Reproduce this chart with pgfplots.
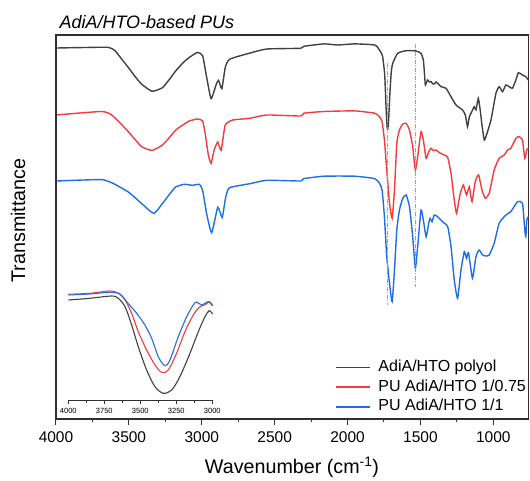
\documentclass[border=0pt]{standalone}
\usepackage{fontspec}
\setmainfont{Liberation Sans}
\usepackage{pgfplots}
\pgfplotsset{compat=1.18}
\definecolor{cblack}{HTML}{404040}
\definecolor{cred}{HTML}{F03C3C}
\definecolor{cblue}{HTML}{1F6FE0}
\definecolor{cdash}{HTML}{A0A0A0}
\definecolor{caxis}{HTML}{303030}
\begin{document}
\begin{tikzpicture}[x=1pt,y=1pt]
\useasboundingbox (0,0) rectangle (530,481);
% ---------------- main axis ----------------
\begin{axis}[
  at={(56pt,62pt)}, anchor=south west,
  scale only axis, width=472.3pt, height=384pt,
  x dir=reverse, xmin=760, xmax=4000,
  ymin=62, ymax=446,
  ytick=\empty,
  xtick={1000,1500,...,4000},
  minor x tick num=1,
  xtick pos=left, xtick align=outside,
  major tick length=6.5pt, minor tick length=3.5pt,
  every tick/.style={line width=1pt, caxis},
  axis line style={line width=1.2pt, caxis},
  /pgf/number format/assume math mode=true,
  /pgf/number format/1000 sep={},
  xticklabel style={font=\fontsize{15.5}{18}\selectfont, anchor=base, inner sep=0pt, yshift=-17.5pt},
  legend style={at={(axis description cs:0.5907,0.154)}, anchor=north west,
    draw=none, fill=none, inner sep=0pt, font=\fontsize{16}{19}\selectfont,
    row sep=4.7pt, nodes={inner sep=0pt, text height=11.5pt, text depth=3.5pt},
    /tikz/every odd column/.append style={column sep=7.7pt}},
  legend image code/.code={\draw[#1, line width=1.6pt] (0pt,0pt) -- (34pt,0pt);},
  legend cell align=left,
  clip=false,
]
\addplot[cblack, line width=1.4pt, smooth, tension=0.3] coordinates {
(3993,433.0)(3800,433.5)(3641,433.7)(3595,430.3)(3550,422)(3503,413.4)(3455,404)(3410,396.5)(3341,389.7)(3272,393.1)
(3225,401)(3179,410)(3130,418)(3086,423.5)(3029,428.6)(2994,425.2)(2966,403.3)(2936,382.3)(2901,396.5)(2885,400.6)
(2862,392.4)(2839,413.4)(2809,421.8)(2670,427.9)(2554,432)(2323,432.7)(2300,434.7)(2161,437.1)
(2069,436)(1953,437.1)(1814,436)(1781,431)(1760,425)(1745,406)(1735,371)(1728,353)(1724,351.7)
(1718,361)(1710,386)(1700,409)(1690,417.7)(1656,427.7)(1598,430.3)(1530,430)(1496,427.7)
(1480,421)(1470,403)(1466,396)(1451,401)(1438,399)(1427,399.3)(1415,397)(1405,397)(1393,399)
(1382,397.7)(1370,396)(1359,394.3)(1324,392.7)(1297,386)(1256,376)(1211,371)(1192,366)
(1177,354.3)(1165,364)(1153,367.7)(1131,374.3)(1119,371)(1103,382.7)(1090,371)(1078,356)
(1062,341)(1047,346)(1016,361)(982,387.7)(960,394.3)(937,389.3)(914,396)(891,394.3)(869,392.7)
(845,401)(828,408.3)(800,406)(777,404.3)(760,401)
};
\addlegendentry{AdiA/HTO polyol}
\addplot[cred, line width=1.4pt, smooth, tension=0.3] coordinates {
(3993,366.1)(3688,369.5)(3619,366.1)(3560,358)(3503,349.2)(3455,341)(3410,334)(3341,330.6)(3272,335.7)(3225,343)(3179,350.9)
(3130,356)(3086,360)(3029,362)(2994,360)(2975,346)(2955,326)(2936,317.6)(2915,331)(2890,339)(2867,330.6)
(2839,356)(2786,361)(2670,362.7)(2554,366)(2323,365)(2300,367.8)(2161,369.5)(1953,370.1)
(1814,367.8)(1781,364.3)(1763,359.3)(1747,341)(1731,311)(1712,277.7)(1694,262.7)(1678,291)
(1662,337.7)(1644,351)(1621,357)(1598,357.7)(1575,351)(1553,334.3)(1535,311)(1519,324.3)
(1496,349.3)(1480,341)(1461,322.7)(1443,329.3)(1427,332.7)(1411,330.3)(1393,331)(1370,328.3)
(1336,326)(1313,323.7)(1290,307.7)(1268,281)(1252,267.7)(1229,286)(1206,296)(1184,286)
(1165,294.3)(1146,279.3)(1124,299.3)(1101,306)(1078,291)(1055,282.7)(1028,287.7)(994,311)
(960,322.7)(925,326)(903,331)(880,332.7)(845,342.7)(823,344.3)(800,341)(784,322.7)(770,331)(760,332.7)
};
\addlegendentry{PU AdiA/HTO 1/0.75}
\addplot[cblue, line width=1.4pt, smooth, tension=0.3] coordinates {
(3993,300)(3688,301.4)(3600,297)(3503,288.9)(3455,283)(3410,277.1)(3329,267.6)(3272,277.1)(3225,286)(3179,294)(3121,296.7)
(3063,295.7)(3017,296.7)(2994,290.6)(2966,266.9)(2932,248.3)(2890,273.7)(2860,263.5)(2836,283.8)
(2809,293.3)(2670,297.3)(2554,300.7)(2323,300)(2300,302.4)(2161,304.8)(1953,304.8)(1814,302.4)
(1781,297.7)(1763,291)(1747,264.3)(1731,224.3)(1712,197.7)(1694,179.3)(1678,211)(1662,251)
(1644,271)(1621,282.7)(1598,286)(1575,274.3)(1553,244.3)(1535,212.7)(1519,234.3)(1496,271)
(1480,261)(1461,244.3)(1443,257.7)(1434,262.7)(1420,259.3)(1405,266)(1382,264.3)(1348,259.3)
(1313,254.3)(1290,234.3)(1268,201)(1245,182.7)(1222,211)(1199,229.3)(1184,222.7)(1170,228.3)
(1143,202.7)(1119,224.3)(1097,231)(1074,226)(1051,225)(1028,226)(994,237.7)(960,257.7)
(914,266)(880,269.3)(834,279.3)(800,277.7)(784,251)(777,244.3)(770,261)(760,264.3)
};
\addlegendentry{PU AdiA/HTO 1/1}
\addplot[cdash, line width=0.9pt, dash pattern=on 4pt off 1.5pt on 1pt off 1.5pt, forget plot] coordinates {(1724,418)(1724,176)};
\addplot[cdash, line width=0.9pt, dash pattern=on 4pt off 1.5pt on 1pt off 1.5pt, forget plot] coordinates {(1535,437)(1535,194)};
\end{axis}
% ---------------- inset ----------------
\begin{axis}[
  at={(68.3pt,80pt)}, anchor=south west,
  scale only axis, width=145pt, height=116pt,
  x dir=reverse, xmin=2993, xmax=4000,
  ymin=80, ymax=196,
  axis x line*=bottom, axis y line=none,
  xtick={3000,3250,...,4000},
  minor x tick num=1,
  xtick align=outside,
  major tick length=3pt, minor tick length=2pt,
  every tick/.style={line width=0.8pt, caxis},
  axis line style={line width=1pt, caxis, -},
  /pgf/number format/assume math mode=true,
  /pgf/number format/1000 sep={},
  xticklabel style={font=\fontsize{7.5}{9}\selectfont, anchor=base, inner sep=0pt, yshift=-10pt},
  clip=false,
]
\addplot[cblack, line width=1.1pt, smooth, tension=0.5] coordinates {
(4000,181)(3850,182.7)(3699,185)(3653,182.7)(3606,174.3)(3560,156)(3514,134.3)(3456,111)
(3398,94.3)(3340,87.7)(3282,91)(3225,104.3)(3155,127.7)(3097,149.3)(3051,164.3)(3021,170.3)(2998,167)
};
\addplot[cred, line width=1.1pt, smooth, tension=0.5] coordinates {
(4000,186.7)(3850,187.7)(3711,190)(3653,187.7)(3606,181)(3560,167.7)(3514,149.3)(3456,131)
(3398,116)(3352,108.7)(3306,111)(3248,127.7)(3190,149.3)(3132,166)(3086,174.3)(3051,176)(3021,179.3)(2998,176)
};
\addplot[cblue, line width=1.1pt, smooth, tension=0.5] coordinates {
(4000,186)(3850,187)(3711,188.7)(3641,187)(3595,179.3)(3525,167.7)(3468,156)(3421,142.7)
(3375,124.3)(3329,115.3)(3294,121)(3236,144.3)(3178,164.3)(3132,176)(3109,179)(3074,176)(3028,179.3)(2998,175)
};
\end{axis}
% ---------------- labels ----------------
\node[anchor=base west, inner sep=0pt, font=\fontsize{18}{21}\selectfont\itshape] at (59.3,452.7) {AdiA/HTO-based PUs};
\node[anchor=center, inner sep=0pt, rotate=90, font=\fontsize{19.7}{23}\selectfont] at (18,260.5) {Transmittance};
\node[anchor=base, inner sep=0pt, font=\fontsize{19.7}{23}\selectfont] at (292,7) {Wavenumber (cm\textsuperscript{-1})};
\end{tikzpicture}
\end{document}
